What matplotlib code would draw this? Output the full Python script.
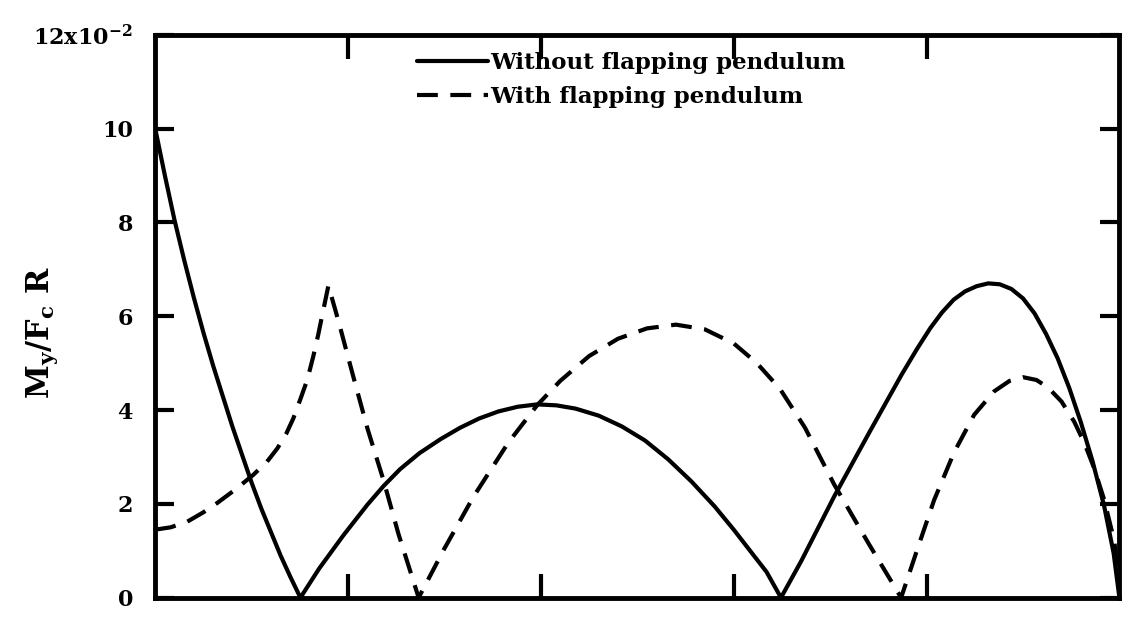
import matplotlib
matplotlib.use("Agg")
import matplotlib.pyplot as plt

plt.rcParams["font.family"] = "DejaVu Serif"
plt.rcParams["font.weight"] = "bold"
plt.rcParams["mathtext.fontset"] = "dejavuserif"

# moment ratio M_y / (F_c R), in units of 1e-2
x_solid = [0.00, 0.05, 0.10, 0.15, 0.20, 0.25, 0.30, 0.35, 0.40, 0.45, 0.50, 0.55,
           0.60, 0.65, 0.70, 0.753,
           0.85, 0.976, 1.10, 1.184, 1.27, 1.37, 1.48, 1.58, 1.68, 1.78, 1.88, 1.98,
           2.08, 2.18, 2.30, 2.42, 2.54, 2.66, 2.78, 2.90, 3.00, 3.10, 3.17, 3.245,
           3.35, 3.52, 3.70, 3.87, 3.95, 4.02, 4.08, 4.14, 4.20, 4.26, 4.32, 4.38,
           4.44, 4.50, 4.56, 4.62, 4.68, 4.74, 4.80, 4.86, 4.92, 4.97, 5.00]
y_solid = [10.0, 9.0, 8.05, 7.2, 6.4, 5.65, 4.95, 4.3, 3.65, 3.05, 2.45, 1.9,
           1.4, 0.9, 0.45, 0.0,
           0.62, 1.33, 1.98, 2.38, 2.74, 3.08, 3.38, 3.62, 3.82, 3.97, 4.07, 4.12,
           4.1, 4.03, 3.88, 3.65, 3.35, 2.95, 2.48, 1.95, 1.45, 0.92, 0.55, 0.0,
           0.78, 2.15, 3.5, 4.75, 5.3, 5.75, 6.08, 6.35, 6.53, 6.64, 6.7, 6.68,
           6.58, 6.38, 6.06, 5.62, 5.1, 4.47, 3.74, 2.92, 1.97, 0.95, 0.0]

x_dashed = [0.00, 0.08, 0.166, 0.25, 0.322, 0.42, 0.509, 0.58, 0.633, 0.68, 0.716,
            0.75, 0.789, 0.82, 0.845, 0.87, 0.898,
            0.95, 1.028, 1.101, 1.184, 1.262, 1.366,
            1.50, 1.65, 1.83, 1.98, 2.10, 2.25, 2.40, 2.55, 2.70, 2.85, 3.00, 3.12,
            3.24, 3.37, 3.52, 3.70, 3.868,
            3.956, 4.039, 4.143, 4.247, 4.351, 4.43, 4.50, 4.57, 4.63, 4.70, 4.766,
            4.82, 4.87, 4.92, 4.974, 5.00]
y_dashed = [1.45, 1.5, 1.62, 1.82, 2.02, 2.32, 2.62, 2.9, 3.18, 3.5, 3.82,
            4.2, 4.65, 5.15, 5.6, 6.1, 6.65,
            5.9, 4.7, 3.6, 2.5, 1.35, 0.0,
            1.05, 2.15, 3.3, 4.1, 4.62, 5.15, 5.52, 5.74, 5.82, 5.72, 5.42, 5.0,
            4.45, 3.62, 2.42, 1.15, 0.0,
            1.08, 2.08, 3.1, 3.9, 4.4, 4.62, 4.7, 4.64, 4.48, 4.18, 3.75,
            3.28, 2.75, 2.1, 1.2, 0.2]

y_ticks = [0, 2, 4, 6, 8, 10, 12]
y_ticklabels = ["0", "2", "4", "6", "8", "10", r"12x10$^{-2}$"]
x_ticks = [1, 2, 3, 4]

fig = plt.figure(figsize=(11.33, 6.2), dpi=100)
ax = fig.add_axes([0.137, 0.036, 0.851, 0.908])

ax.plot(x_solid, y_solid, color="black", lw=3.0, solid_capstyle="round",
        solid_joinstyle="round", label="Without flapping pendulum")
ax.plot(x_dashed, y_dashed, color="black", lw=3.0, dashes=(5, 3),
        label="With flapping pendulum")

ax.set_xlim(0, 5)
ax.set_ylim(0, 12)
ax.set_xticks(x_ticks)
ax.set_xticklabels([])
ax.set_yticks(y_ticks)
ax.set_yticklabels(y_ticklabels)
ax.tick_params(axis="both", direction="in", length=14, width=3, top=True, right=True,
               labelsize=16, pad=16)
ax.tick_params(axis="x", length=17)

for spine in ax.spines.values():
    spine.set_linewidth(3.5)

ax.text(-0.117, 0.47, r"$\mathrm{M_y/F_c\ R}$", transform=ax.transAxes, rotation=90,
        ha="center", va="center", fontsize=22)

leg = ax.legend(loc="upper left", bbox_to_anchor=(0.262, 0.985), frameon=False,
                fontsize=16.5, handlelength=3.1, handletextpad=0.1, labelspacing=0.5,
                borderaxespad=0)

plt.savefig("out.png", dpi=100)
